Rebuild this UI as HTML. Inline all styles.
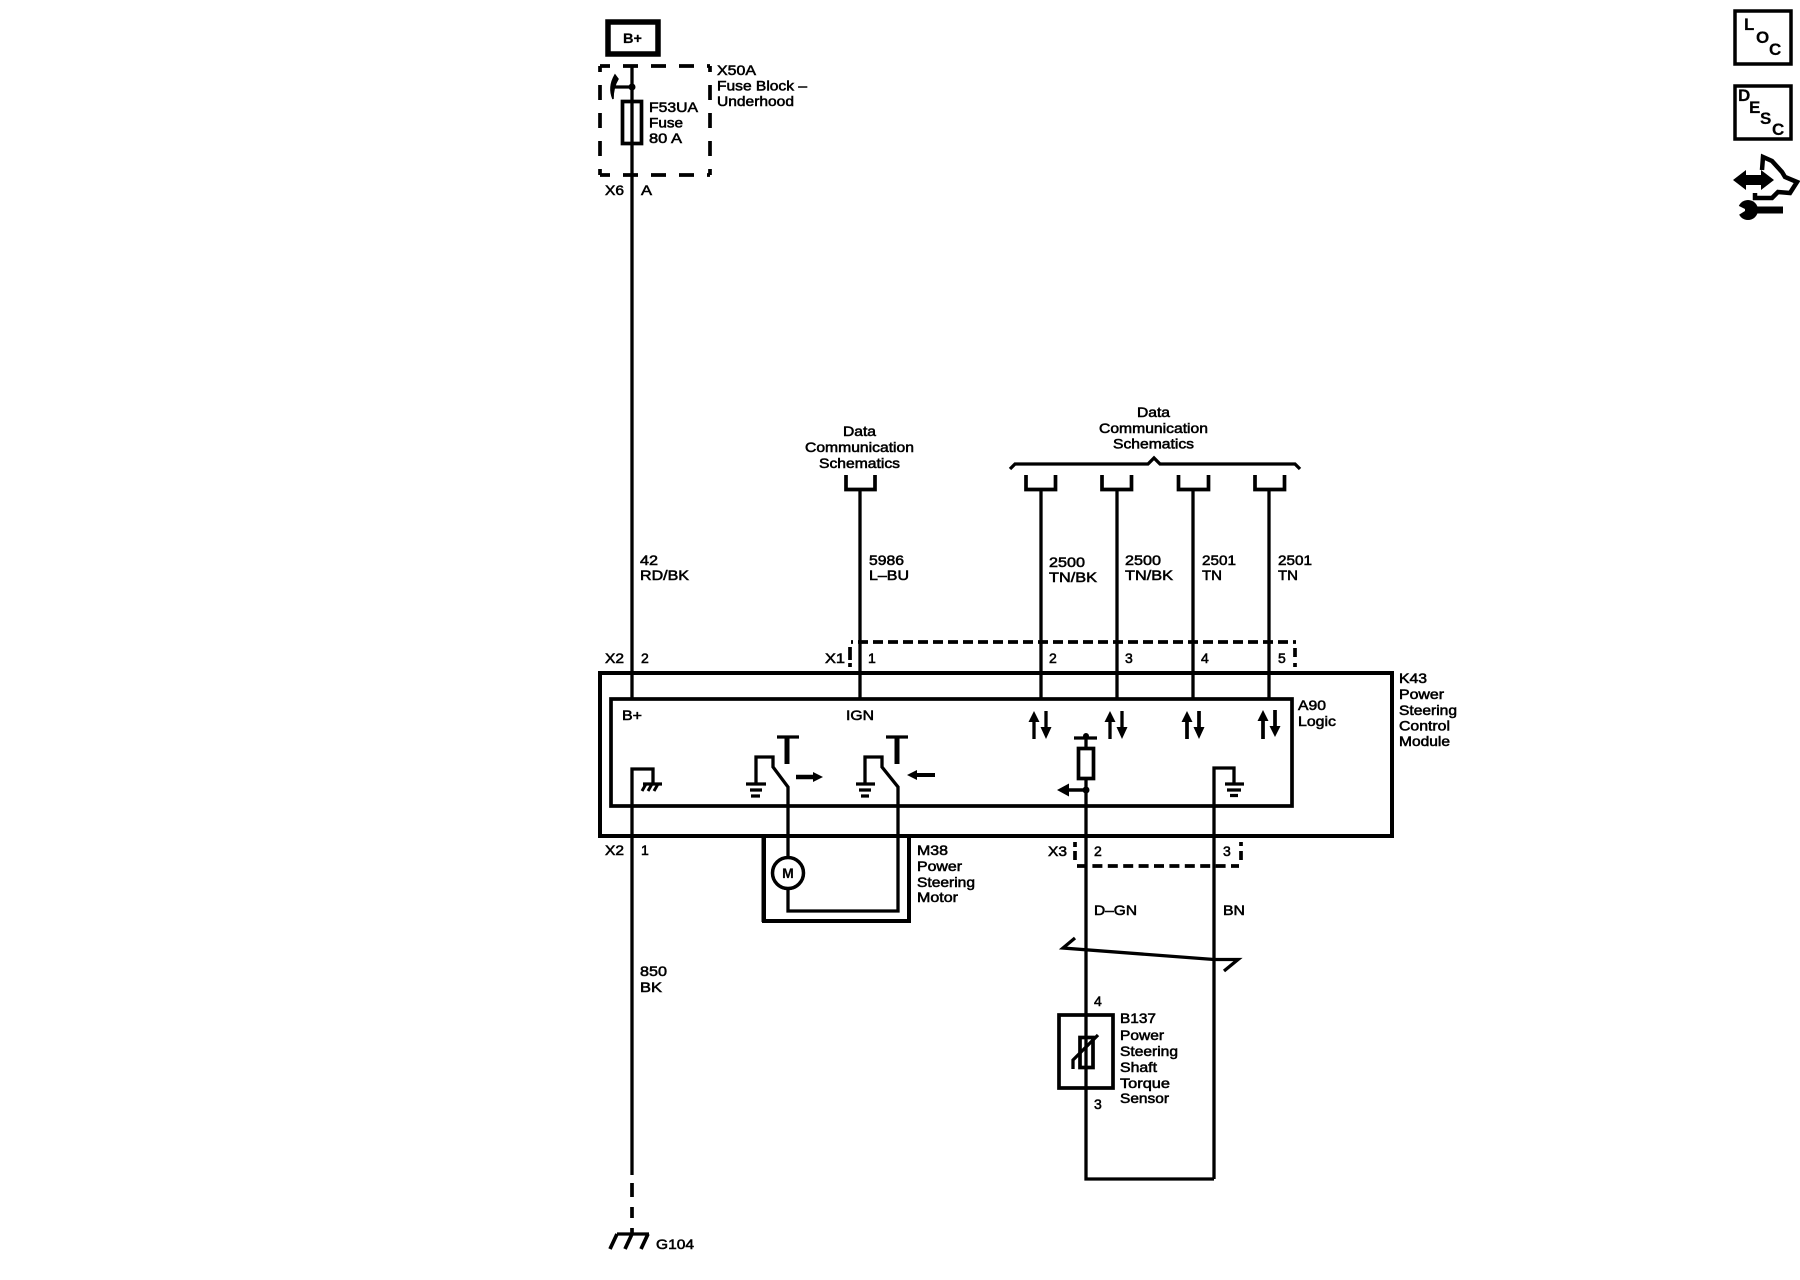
<!DOCTYPE html>
<html>
<head>
<meta charset="utf-8">
<style>
html,body{margin:0;padding:0;background:#fff;}
svg{display:block;}
text{font-family:"Liberation Sans",sans-serif;font-size:14px;fill:#000;stroke:#000;stroke-width:.55px;}
.m{text-anchor:middle;}
.b{font-weight:bold;stroke-width:.2px;}
.w{fill:none;stroke:#000;stroke-width:3.3;}
.t{fill:none;stroke:#000;stroke-width:3.7;}
.f{fill:#000;stroke:none;}
</style>
</head>
<body>
<svg width="1800" height="1280" viewBox="0 0 1800 1280" xmlns="http://www.w3.org/2000/svg">
<rect width="1800" height="1280" fill="#fff"/>

<!-- B+ -->
<rect x="608" y="22" width="50" height="32" fill="none" stroke="#000" stroke-width="5.5"/>
<text class="m b" x="632.5" y="43" textLength="19" lengthAdjust="spacingAndGlyphs">B+</text>

<!-- Fuse block dashed -->
<path class="t" d="M600 66H710" stroke-dasharray="15 13" stroke-dashoffset="5"/>
<path class="t" d="M600 175H710" stroke-dasharray="15 13" stroke-dashoffset="5"/>
<path class="t" d="M600 66V175" stroke-dasharray="15 13" stroke-dashoffset="9"/>
<path class="t" d="M710 66V175" stroke-dasharray="15 13" stroke-dashoffset="9"/>

<!-- main wire upper -->
<path class="w" d="M632 66V699"/>
<circle class="f" cx="632" cy="87" r="3.5"/>
<path class="w" d="M632 87H611"/>
<path d="M615 75Q608 87 613 99Q613 87 618 79Z" fill="#000" stroke="#000" stroke-width="1.500"/>
<rect x="622.5" y="101.5" width="19" height="42" class="t"/>

<text x="717" y="75" textLength="39" lengthAdjust="spacingAndGlyphs">X50A</text>
<text x="717" y="90.5" textLength="90" lengthAdjust="spacingAndGlyphs">Fuse Block –</text>
<text x="717" y="106" textLength="77" lengthAdjust="spacingAndGlyphs">Underhood</text>
<text x="649" y="112" textLength="49" lengthAdjust="spacingAndGlyphs">F53UA</text>
<text x="649" y="127.5" textLength="34" lengthAdjust="spacingAndGlyphs">Fuse</text>
<text x="649" y="143" textLength="33" lengthAdjust="spacingAndGlyphs">80 A</text>
<text x="605" y="195" textLength="19" lengthAdjust="spacingAndGlyphs">X6</text>
<text x="641" y="195" textLength="11" lengthAdjust="spacingAndGlyphs">A</text>

<!-- Data comm labels -->
<text class="m" x="859.500" y="436" textLength="33" lengthAdjust="spacingAndGlyphs">Data</text>
<text class="m" x="859.500" y="452" textLength="109" lengthAdjust="spacingAndGlyphs">Communication</text>
<text class="m" x="859.500" y="468" textLength="81" lengthAdjust="spacingAndGlyphs">Schematics</text>
<text class="m" x="1153.500" y="417" textLength="33" lengthAdjust="spacingAndGlyphs">Data</text>
<text class="m" x="1153.500" y="433" textLength="109" lengthAdjust="spacingAndGlyphs">Communication</text>
<text class="m" x="1153.500" y="448.5" textLength="81" lengthAdjust="spacingAndGlyphs">Schematics</text>

<!-- Brace -->
<path class="w" d="M1010 469L1015 464H1148L1154 458L1160 464H1295L1300 469"/>

<!-- Connectors U -->
<path class="w" d="M846 475V489.5H875V475" style="stroke-width:3.7"/>
<path class="w" d="M1026 475V489.5H1055.500V475" style="stroke-width:3.7"/>
<path class="w" d="M1102 475V489.5H1131.500V475" style="stroke-width:3.7"/>
<path class="w" d="M1178.500 475V489.5H1208.500V475" style="stroke-width:3.7"/>
<path class="w" d="M1255 475V489.5H1284.500V475" style="stroke-width:3.7"/>
<path class="w" d="M860 489V699M1041 489V699M1117 489V699M1193 489V699M1269 489V699"/>

<!-- wire labels -->
<text x="640" y="565" textLength="18" lengthAdjust="spacingAndGlyphs">42</text>
<text x="640" y="580" textLength="49" lengthAdjust="spacingAndGlyphs">RD/BK</text>
<text x="869" y="565" textLength="35" lengthAdjust="spacingAndGlyphs">5986</text>
<text x="869" y="580" textLength="40" lengthAdjust="spacingAndGlyphs">L–BU</text>
<text x="1049" y="567" textLength="36" lengthAdjust="spacingAndGlyphs">2500</text>
<text x="1049" y="582" textLength="48" lengthAdjust="spacingAndGlyphs">TN/BK</text>
<text x="1125" y="565" textLength="36" lengthAdjust="spacingAndGlyphs">2500</text>
<text x="1125" y="580" textLength="48" lengthAdjust="spacingAndGlyphs">TN/BK</text>
<text x="1202" y="565" textLength="34" lengthAdjust="spacingAndGlyphs">2501</text>
<text x="1202" y="580" textLength="20" lengthAdjust="spacingAndGlyphs">TN</text>
<text x="1278" y="565" textLength="34" lengthAdjust="spacingAndGlyphs">2501</text>
<text x="1278" y="580" textLength="20" lengthAdjust="spacingAndGlyphs">TN</text>

<!-- X1 dashed -->
<path class="t" d="M851 642H1296" stroke-dasharray="10 5" stroke-dashoffset="8"/>
<path class="t" d="M850 647V660M850 663V667M1295 648V657M1295 663V667"/>

<text x="605" y="663" textLength="19" lengthAdjust="spacingAndGlyphs">X2</text>
<text x="641" y="663">2</text>
<text x="825" y="663" textLength="20" lengthAdjust="spacingAndGlyphs">X1</text>
<text x="868" y="663">1</text>
<text x="1049" y="663">2</text>
<text x="1125" y="663">3</text>
<text x="1201" y="663">4</text>
<text x="1278" y="663">5</text>

<!-- Module boxes -->
<rect class="t" x="600" y="673" width="792" height="163" style="stroke-width:4"/>
<rect class="t" x="611" y="699" width="681" height="107"/>

<text x="622" y="720" textLength="20" lengthAdjust="spacingAndGlyphs">B+</text>
<text x="846" y="720" textLength="28" lengthAdjust="spacingAndGlyphs">IGN</text>
<text x="1298" y="710" textLength="28" lengthAdjust="spacingAndGlyphs">A90</text>
<text x="1298" y="726" textLength="38" lengthAdjust="spacingAndGlyphs">Logic</text>
<text x="1399" y="683" textLength="28" lengthAdjust="spacingAndGlyphs">K43</text>
<text x="1399" y="699" textLength="45" lengthAdjust="spacingAndGlyphs">Power</text>
<text x="1399" y="715" textLength="58" lengthAdjust="spacingAndGlyphs">Steering</text>
<text x="1399" y="730.5" textLength="51" lengthAdjust="spacingAndGlyphs">Control</text>
<text x="1399" y="746" textLength="51" lengthAdjust="spacingAndGlyphs">Module</text>

<!-- left ground -->
<path class="w" d="M632 1175V769H653V784"/>
<path class="w" d="M643 784H662"/>
<path d="M646 784L642 791M652 784L648 791M658 784L654 791" fill="none" stroke="#000" stroke-width="3"/>
<path class="t" d="M632 1183V1197M632 1207V1218M632 1228V1235"/>
<path class="w" d="M617 1234H649"/>
<path d="M617 1234L610 1249M632 1234L625 1249M648 1234L641 1249" fill="none" stroke="#000" stroke-width="3.700"/>
<text x="656" y="1249" textLength="38" lengthAdjust="spacingAndGlyphs">G104</text>
<text x="605" y="855" textLength="19" lengthAdjust="spacingAndGlyphs">X2</text>
<text x="641" y="855">1</text>
<text x="640" y="976" textLength="27" lengthAdjust="spacingAndGlyphs">850</text>
<text x="640" y="992" textLength="22" lengthAdjust="spacingAndGlyphs">BK</text>

<!-- Switch 1 -->
<path class="w" d="M746 784H766M750 790H762M751 796H760"/>
<path class="w" d="M756 784V757H773V767L788 787V857"/>
<path d="M787 764V737" fill="none" stroke="#000" stroke-width="5"/>
<path class="w" d="M777 737H799"/>
<path d="M796 777H815" fill="none" stroke="#000" stroke-width="4.500"/>
<path class="f" d="M823 777L813 772V782Z"/>
<!-- Switch 2 -->
<path class="w" d="M856 784H875M859 790H871M861 796H869"/>
<path class="w" d="M865 784V757H882V767L898 787V911H788V888"/>
<path d="M897 764V737" fill="none" stroke="#000" stroke-width="5"/>
<path class="w" d="M886 737H908"/>
<path d="M935 775H915" fill="none" stroke="#000" stroke-width="4"/>
<path class="f" d="M907 775L917 770V780Z"/>

<!-- Motor -->
<circle cx="788" cy="873" r="15.500" fill="#fff" stroke="#000" stroke-width="3.500"/>
<text class="m b" x="788" y="878" style="font-size:14px">M</text>
<path d="M764 836V921H909V836" fill="none" stroke="#000" stroke-width="4"/>
<path d="M762.500 836V922" fill="none" stroke="#000" stroke-width="2"/>
<text x="917" y="855" textLength="31" lengthAdjust="spacingAndGlyphs">M38</text>
<text x="917" y="871" textLength="45" lengthAdjust="spacingAndGlyphs">Power</text>
<text x="917" y="887" textLength="58" lengthAdjust="spacingAndGlyphs">Steering</text>
<text x="917" y="902" textLength="41" lengthAdjust="spacingAndGlyphs">Motor</text>

<!-- Data arrows -->
<g>
<path class="w" d="M1034 720V739M1046 711V730"/>
<path class="f" d="M1034 711L1028.500 722H1039.500ZM1046 739L1040.500 727H1051.500Z"/>
</g>
<g>
<path class="w" d="M1110 720V739M1122 711V730"/>
<path class="f" d="M1110 711L1104.500 722H1115.500ZM1122 739L1116.500 727H1127.500Z"/>
</g>
<g>
<path class="t" d="M1187 720V739M1199 711V730"/>
<path class="f" d="M1187 711L1181.500 722H1192.500ZM1199 739L1193.500 727H1204.500Z"/>
</g>
<g>
<path class="t" d="M1263 720V739M1275 710V729"/>
<path class="f" d="M1263 710L1257.500 721H1268.500ZM1275 737L1269.500 726H1280.500Z"/>
</g>

<!-- Resistor -->
<path class="w" d="M1074 738H1097M1086 736V748"/>
<circle class="f" cx="1086" cy="736" r="3"/>
<rect x="1078.500" y="748.500" width="15" height="30" fill="#fff" stroke="#000" stroke-width="3.700"/>
<path class="w" d="M1086 778V1014"/>
<circle class="f" cx="1086" cy="790" r="3.500"/>
<path d="M1086 790H1066" fill="none" stroke="#000" stroke-width="3.500"/>
<path class="f" d="M1057 790L1069 783.500V796.500Z"/>

<!-- Right ground -->
<path class="w" d="M1214 1179V768H1234V784"/>
<path class="w" d="M1225 784H1244M1227 790H1241M1230 795.500H1238"/>

<!-- X3 dashed -->
<path class="t" d="M1077 866H1239" stroke-dasharray="10 5.400"/>
<path class="t" d="M1075 842V847M1075 851V860M1241 842V846M1241 851V860"/>
<text x="1048" y="856" textLength="19" lengthAdjust="spacingAndGlyphs">X3</text>
<text x="1094" y="856">2</text>
<text x="1223" y="856">3</text>
<text x="1094" y="915" textLength="43" lengthAdjust="spacingAndGlyphs">D–GN</text>
<text x="1223" y="915" textLength="22" lengthAdjust="spacingAndGlyphs">BN</text>

<!-- Skew line -->
<path class="w" d="M1075 938L1063 948L1214 959.500H1238L1224 971"/>

<!-- Sensor -->
<path class="w" d="M1086 1014V1179H1214"/>
<rect class="t" x="1059" y="1015" width="54" height="73"/>
<rect class="t" x="1080" y="1037.5" width="13" height="30"/>
<path class="w" d="M1098 1035L1073 1060V1069"/>
<text x="1094" y="1006">4</text>
<text x="1094" y="1109">3</text>
<text x="1120" y="1023" textLength="36" lengthAdjust="spacingAndGlyphs">B137</text>
<text x="1120" y="1040" textLength="44" lengthAdjust="spacingAndGlyphs">Power</text>
<text x="1120" y="1056" textLength="58" lengthAdjust="spacingAndGlyphs">Steering</text>
<text x="1120" y="1072" textLength="37" lengthAdjust="spacingAndGlyphs">Shaft</text>
<text x="1120" y="1088" textLength="50" lengthAdjust="spacingAndGlyphs">Torque</text>
<text x="1120" y="1103" textLength="49" lengthAdjust="spacingAndGlyphs">Sensor</text>

<!-- LOC -->
<rect x="1735" y="11" width="56" height="53" fill="none" stroke="#000" stroke-width="3.500"/>
<text class="b" x="1744" y="30" style="font-size:17px">L</text>
<text class="b" x="1756" y="43" style="font-size:17px">O</text>
<text class="b" x="1769" y="55" style="font-size:17px">C</text>
<!-- DESC -->
<rect x="1735" y="86" width="56" height="53" fill="none" stroke="#000" stroke-width="3.500"/>
<text class="b" x="1738" y="101" style="font-size:17px">D</text>
<text class="b" x="1749" y="113" style="font-size:17px">E</text>
<text class="b" x="1760" y="124" style="font-size:17px">S</text>
<text class="b" x="1772" y="135" style="font-size:17px">C</text>

<!-- Tool icon -->
<path class="f" d="M1733 180L1746 170V175H1761V170L1774 180L1761 190V185H1746V190Z"/>
<path d="M1762 170L1763 157L1772 161L1782 172L1785 177L1797 182L1790 193L1778 192L1772 198H1755V193" fill="none" stroke="#000" stroke-width="4.500"/>
<circle class="f" cx="1748" cy="210" r="10"/>
<path class="f" d="M1750 206.500H1783V213.500H1750Z"/>
<path d="M1737 205L1745 209V211L1737 216Z" fill="#fff" stroke="none"/>
</svg>
</body>
</html>
